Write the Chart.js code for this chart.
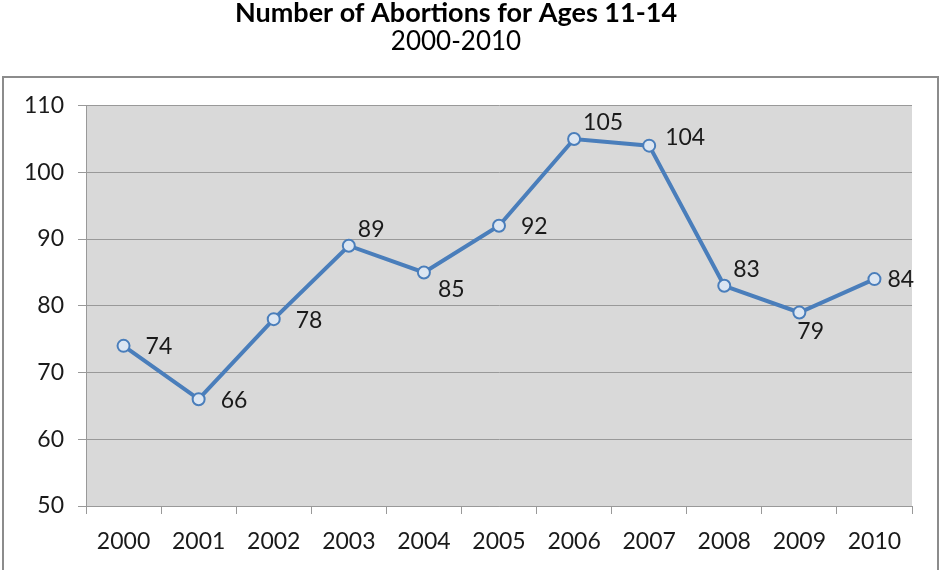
<!DOCTYPE html>
<html>
<head>
<meta charset="utf-8">
<script src="https://cdn.jsdelivr.net/npm/chart.js@4"></script>
<style>
  html, body { margin: 0; padding: 0; background: #fff; }
  #wrap { width: 940px; height: 570px; }
</style>
</head>
<body>
<div id="wrap"><canvas id="grafico"></canvas></div>
<script>
// Datos del gráfico
const anios = ['2000', '2001', '2002', '2003', '2004', '2005', '2006', '2007', '2008', '2009', '2010'];
const abortos = [74, 66, 78, 89, 85, 92, 105, 104, 83, 79, 84];
// Dónde va cada etiqueta respecto al punto
const posEtiqueta = ['right', 'right', 'right', 'above', 'below', 'right', 'above', 'upright', 'above', 'under', 'near'];

const fuente = 'Lato, Calibri, sans-serif';

// Fondo gris del área de trazado y borde exterior
const fondoPlugin = {
    id: 'fondo',
    beforeDraw(chart) {
        const { ctx, chartArea } = chart;
        ctx.save();
        ctx.fillStyle = '#d9d9d9';
        ctx.fillRect(chartArea.left, chartArea.top, chartArea.right - chartArea.left, chartArea.bottom - chartArea.top);
        ctx.strokeStyle = '#8c8c8c';
        ctx.lineWidth = 2;
        ctx.strokeRect(3, 77, 935, 500);
        ctx.restore();
    }
};

// Etiquetas con el valor de cada punto
const etiquetasPlugin = {
    id: 'etiquetas',
    afterDatasetsDraw(chart) {
        const { ctx } = chart;
        const meta = chart.getDatasetMeta(0);
        ctx.save();
        ctx.font = '23px ' + fuente;
        ctx.fillStyle = '#1a1a1a';
        ctx.textBaseline = 'middle';
        ctx.textAlign = 'left';
        meta.data.forEach((pt, i) => {
            let dx = 22, dy = 1;
            switch (posEtiqueta[i]) {
                case 'above': dx = 9; dy = -16; break;
                case 'upright': dx = 16; dy = -8; break;
                case 'below': dx = 14; dy = 17; break;
                case 'under': dx = -2; dy = 19; break;
                case 'near': dx = 13; dy = 0; break;
            }
            ctx.fillText(String(abortos[i]), pt.x + dx, pt.y + dy);
        });
        ctx.restore();
    }
};

new Chart(document.getElementById('grafico'), {
    type: 'line',
    data: {
        labels: anios,
        datasets: [{
            label: 'Abortos',
            data: abortos,
            borderColor: '#4a7ebb',
            borderWidth: 4,
            pointBackgroundColor: '#dce6f2',
            pointBorderColor: '#4a7ebb',
            pointBorderWidth: 2,
            pointRadius: 6,
            tension: 0
        }]
    },
    options: {
        responsive: true,
        maintainAspectRatio: false,
        animation: false,
        layout: { padding: { left: 0, right: 28, top: 0, bottom: 0 } },
        plugins: {
            legend: { display: false },
            tooltip: { enabled: false },
            title: {
                display: true,
                text: 'Number of Abortions for Ages 11-14',
                color: '#000',
                font: { family: fuente, size: 27, weight: 'bold', lineHeight: 1.0 },
                padding: { top: 0, bottom: 0 }
            },
            subtitle: {
                display: true,
                text: '2000-2010',
                color: '#000',
                font: { family: fuente, size: 26, lineHeight: 1.1 },
                padding: { top: 0, bottom: 50 }
            }
        },
        scales: {
            x: {
                offset: true,
                grid: { offset: true, drawOnChartArea: false, drawTicks: true, tickLength: 8, color: '#999' },
                border: { color: '#999', width: 1 },
                ticks: { color: '#1a1a1a', font: { family: fuente, size: 23 }, padding: 14, maxRotation: 0 },
                afterFit(scale) { scale.height = 64; }
            },
            y: {
                min: 50,
                max: 110,
                ticks: { stepSize: 10, color: '#1a1a1a', font: { family: fuente, size: 23 }, padding: 14 },
                grid: { color: '#999', tickLength: 8 },
                border: { color: '#999', width: 1 },
                afterFit(scale) { scale.width = 86; }
            }
        }
    },
    plugins: [fondoPlugin, etiquetasPlugin]
});
</script>
</body>
</html>
